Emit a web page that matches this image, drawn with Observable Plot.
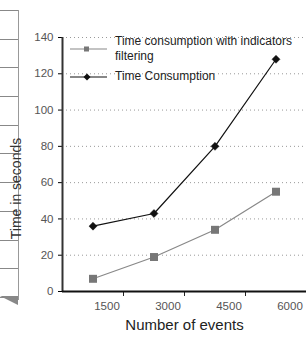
<!DOCTYPE html>
<html><head><meta charset="utf-8">
<script src="https://cdn.jsdelivr.net/npm/d3@7"></script>
<script src="https://cdn.jsdelivr.net/npm/@observablehq/plot@0.6"></script>
<style>
body{margin:0;background:#fff;}
#wrap{position:relative;width:306px;height:338px;overflow:hidden;font-family:"Liberation Sans",Arial,sans-serif;}
#strip{position:absolute;left:0;top:10px;width:18px;height:290px;border-right:1px solid #999;
  background:repeating-linear-gradient(to bottom,#888 0,#888 1px,transparent 1px,transparent 28.7px);}
#tri{position:absolute;left:0;top:296px;width:0;height:0;border-top:9px solid #888;border-left:18px solid transparent;}
#wrap svg{position:absolute;left:0;top:0;font-family:"Liberation Sans",Arial,sans-serif;}
#wrap svg g[aria-label="y-axis tick label"] text,#wrap svg g[aria-label="x-axis tick label"] text{fill:#555;}
#wrap svg g[aria-label="x-axis label"] text{font-size:15px;fill:#222;}
#legend{position:absolute;left:68px;top:34px;font-size:12px;color:#222;line-height:15px;}
.li{position:relative;padding-left:47px;}
.li svg{position:absolute;left:0;}
</style></head><body><div id="wrap"><div id="strip"></div><div id="tri"></div></div>
<script>
const events = [1500, 3000, 4500, 6000];
const filtered = [7, 19, 34, 55];
const total = [36, 43, 80, 128];
const yTicks = [0, 20, 40, 60, 80, 100, 120, 140];
const boundaryTicks = [2250, 3750, 5250];
const seriesNames = ["Time consumption with indicators filtering", "Time Consumption"];
const seriesColors = ["#888888", "#111111"];
const markerColors = ["#777777", "#111111"];

const dataF = events.map((e, i) => ({events: e, value: filtered[i], series: seriesNames[0]}));
const dataT = events.map((e, i) => ({events: e, value: total[i], series: seriesNames[1]}));

const chart = Plot.plot({
  width: 306, height: 338,
  marginLeft: 62, marginRight: 0, marginTop: 37, marginBottom: 47,
  style: {fontSize: "11.5px", background: "transparent"},
  x: {type: "linear", domain: [750, 6750]},
  y: {domain: [0, 140]},
  marks: [
    Plot.gridY(yTicks, {stroke: "#999", strokeOpacity: 1, strokeDasharray: "1,3"}),
    Plot.axisY(yTicks, {tickSize: 4, tickPadding: 5, label: null}),
    Plot.text(["Time in seconds"], {frameAnchor: "left", dx: -46, dy: 24, rotate: -90, textAnchor: "middle", fontSize: 14, fill: "#333"}),
    Plot.axisX(events, {tickSize: 0, tickPadding: 10, dx: 14, tickFormat: d => String(d), label: "Number of events", labelAnchor: "center", labelOffset: 38, labelArrow: "none"}),
    Plot.axisX(boundaryTicks, {tickSize: 5, tickFormat: () => "", label: null, stroke: "#222"}),
    Plot.ruleX([750], {stroke: "#333", strokeWidth: 2}),
    Plot.ruleY([0], {stroke: "#111", strokeWidth: 2}),
    Plot.line(dataF, {x: "events", y: "value", stroke: seriesColors[0], strokeWidth: 1.2}),
    Plot.line(dataT, {x: "events", y: "value", stroke: seriesColors[1], strokeWidth: 1.2}),
    Plot.dot(dataF, {x: "events", y: "value", symbol: "square", r: 4.5, fill: markerColors[0], stroke: "none"}),
    Plot.dot(dataT, {x: "events", y: "value", symbol: "diamond2", r: 3.6, fill: markerColors[1], stroke: markerColors[1], strokeWidth: 0.5})
  ]
});
const wrap = document.getElementById("wrap");
wrap.appendChild(chart);

const legend = document.createElement("div");
legend.id = "legend";
legend.innerHTML = `
<div class="li" style="margin-bottom:5px"><svg width="40" height="14" style="top:8px"><line x1="2" x2="39" y1="7" y2="7" stroke="${seriesColors[0]}" stroke-width="1.2"/><rect x="16" y="4.5" width="5" height="5" fill="${markerColors[0]}"/></svg>Time consumption with indicators<br>filtering</div>
<div class="li"><svg width="40" height="14" style="top:1px"><line x1="2" x2="39" y1="7" y2="7" stroke="${seriesColors[1]}" stroke-width="1.2"/><path d="M19,3.5 L22.5,7 L19,10.5 L15.5,7Z" fill="${markerColors[1]}"/></svg>Time Consumption</div>`;
wrap.appendChild(legend);
</script></body></html>
